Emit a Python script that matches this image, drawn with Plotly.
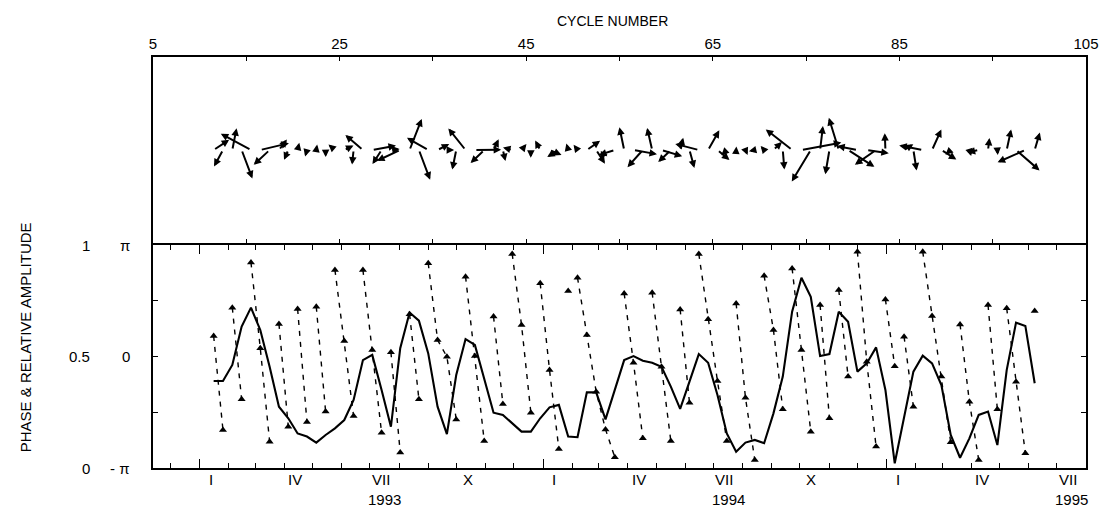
import math
from datetime import date
import plotly.graph_objects as go

# ---------------- data ----------------
first_cycle = 11.5  # cycle number of the first sample; one sample per cycle

relative_amplitude = [
    0.39, 0.39, 0.462, 0.634, 0.719, 0.619, 0.454, 0.275, 0.223, 0.155,
    0.141, 0.114, 0.148, 0.178, 0.215, 0.305, 0.484, 0.507, 0.350, 0.185,
    0.537, 0.697, 0.661, 0.514, 0.275, 0.152, 0.417, 0.578, 0.552, 0.395,
    0.248, 0.238, 0.200, 0.163, 0.163, 0.223, 0.272, 0.283, 0.141, 0.138,
    0.339, 0.339, 0.218, 0.350, 0.484, 0.502, 0.481, 0.472, 0.454, 0.365,
    0.265, 0.387, 0.511, 0.472, 0.327, 0.155, 0.073, 0.114, 0.126, 0.111,
    0.245, 0.410, 0.701, 0.853, 0.768, 0.502, 0.511, 0.701, 0.656, 0.432,
    0.469, 0.541, 0.350, 0.021, 0.230, 0.432, 0.504, 0.469, 0.372, 0.148,
    0.046, 0.133, 0.238, 0.253, 0.103, 0.439, 0.652, 0.637, 0.380,
]

# phase, plotted on the same 0..1 scale (0 = -pi, 0.5 = 0, 1 = pi)
phase_scaled = [
    0.592, 0.170, 0.719, 0.308, 0.922, 0.537, 0.118, 0.646, 0.185, 0.713,
    0.206, 0.723, 0.253, 0.888, 0.570, 0.233, 0.888, 0.529, 0.158, 0.519,
    0.069, 0.690, 0.308, 0.918, 0.574, 0.499, 0.218, 0.858, 0.502, 0.121,
    0.679, 0.287, 0.960, 0.641, 0.248, 0.828, 0.439, 0.085, 0.794, 0.853,
    0.596, 0.342, 0.173, 0.048, 0.783, 0.472, 0.133, 0.786, 0.454, 0.121,
    0.711, 0.293, 0.960, 0.667, 0.390, 0.121, 0.738, 0.315, 0.036, 0.862,
    0.619, 0.263, 0.895, 0.529, 0.163, 0.731, 0.223, 0.798, 0.410, 0.970,
    0.477, 0.096, 0.756, 0.456, 0.589, 0.275, 0.970, 0.682, 0.410, 0.115,
    0.644, 0.297, 0.036, 0.731, 0.263, 0.716, 0.387, 0.066, 0.704,
]

# axis labels
cycle_tick_values = [5, 15, 25, 35, 45, 55, 65, 75, 85, 95, 105]
cycle_tick_labels = ["5", "", "25", "", "45", "", "65", "", "85", "", "105"]
month_label_dates = ["1993-01-01", "1993-04-01", "1993-07-01", "1993-10-01",
                     "1994-01-01", "1994-04-01", "1994-07-01", "1994-10-01",
                     "1995-01-01", "1995-04-01", "1995-07-01"]
month_labels = ["I", "IV", "VII", "X", "I", "IV", "VII", "X", "I", "IV", "VII"]
year_label_dates = ["1993-07-01", "1994-07-01", "1995-07-01"]
year_labels = ["1993", "1994", "1995"]
amp_axis_labels = ["1", "0.5", "0"]
phase_axis_labels = ["\u03c0", "0", "- \u03c0"]
axis_label_levels = [1.0, 0.5, 0.0]

# ---------------- helpers ----------------
CYCLE_DAYS = 9.9156
REF_DATE = date(1993, 1, 1)
REF_CYCLE = 10.0


def date_to_cycle(d):
    return REF_CYCLE + (d - REF_DATE).days / CYCLE_DAYS


cycles = [first_cycle + i for i in range(len(relative_amplitude))]

# month ticks
month_ticks, jan_ticks = [], []
y, m = 1992, 12
while (y, m) <= (1995, 7):
    c = date_to_cycle(date(y, m, 1))
    month_ticks.append(c)
    if m == 1:
        jan_ticks.append(c)
    m += 1
    if m > 12:
        m, y = 1, y + 1

# phase line broken where the phase wraps
px, py = [], []
for i, (c, p) in enumerate(zip(cycles, phase_scaled)):
    if i > 0 and p > phase_scaled[i - 1]:
        px.append(None)
        py.append(None)
    px.append(c)
    py.append(p)

FONT = "Liberation Sans, Arial, Helvetica, sans-serif"
fig = go.Figure()

fig.add_trace(go.Scatter(x=px, y=py, mode="lines", xaxis="x", yaxis="y",
                         line=dict(color="black", width=1.4, dash="5px,6px"),
                         hoverinfo="skip", showlegend=False))
fig.add_trace(go.Scatter(x=cycles, y=phase_scaled, mode="markers", xaxis="x", yaxis="y",
                         marker=dict(symbol="triangle-up", size=7, color="black"),
                         showlegend=False))
fig.add_trace(go.Scatter(x=cycles, y=relative_amplitude, mode="lines", xaxis="x", yaxis="y",
                         line=dict(color="black", width=2.1), showlegend=False))

# invisible trace to activate top panel axes
fig.add_trace(go.Scatter(x=[cycles[0]], y=[0], mode="markers", xaxis="x2", yaxis="y2",
                         marker=dict(size=1, color="rgba(0,0,0,0)"), showlegend=False,
                         hoverinfo="skip"))

# ---------------- layout geometry ----------------
# the page body has an 8 px margin, so the figure is placed at (8, 8)
OFF = 8
PAGE_LEFT, PAGE_BOTTOM = 153, 468
W, H = 1111 - OFF, 508 - OFF
L, R, T, B = 145, 16, 49, 40
plot_w = W - L - R
plot_h = H - T - B
bottom_h = 223
LW = 2
split = bottom_h / plot_h
top_start = split + LW / plot_h   # so both boundary lines fall on the same pixels
px_per_cycle = plot_w / 100.0
arrow_px_per_unit = 48.0
baseline_px_from_top = 93
top_h = plot_h - bottom_h - LW
y2_top = baseline_px_from_top / arrow_px_per_unit
y2_bot = -(top_h - baseline_px_from_top) / arrow_px_per_unit
K = arrow_px_per_unit / px_per_cycle

annotations = []
for c, a, p in zip(cycles, relative_amplitude, phase_scaled):
    phi = math.pi * (2 * p - 1)
    annotations.append(dict(
        x=c + K * a * math.cos(phi), y=a * math.sin(phi),
        ax=c, ay=0, xref="x2", yref="y2", axref="x2", ayref="y2",
        text="", showarrow=True, arrowhead=2, arrowsize=0.75, arrowwidth=2,
        arrowcolor="black", standoff=0, startstandoff=0))


def py_paper(y_page):
    return (PAGE_BOTTOM - y_page) / plot_h


def px_paper(x_page):
    return (x_page - PAGE_LEFT) / plot_w


lab_font = dict(family=FONT, size=15, color="black")
for d, t in zip(month_label_dates, month_labels):
    c = date_to_cycle(date.fromisoformat(d))
    annotations.append(dict(x=c, y=py_paper(479), xref="x", yref="paper",
                            text=t, showarrow=False, xanchor="center", yanchor="middle",
                            xshift=11, font=lab_font))
for d, t in zip(year_label_dates, year_labels):
    c = date_to_cycle(date.fromisoformat(d))
    annotations.append(dict(x=c, y=py_paper(500), xref="x", yref="paper",
                            text=t, showarrow=False, xanchor="center", yanchor="middle",
                            xshift=15, font=lab_font))
for lev, a_lab, p_lab in zip(axis_label_levels, amp_axis_labels, phase_axis_labels):
    annotations.append(dict(x=0, y=lev, xref="paper", yref="y", text=a_lab,
                            showarrow=False, xanchor="right", yanchor="middle",
                            xshift=-61, font=lab_font))
    annotations.append(dict(x=0, y=lev, xref="paper", yref="y", text=p_lab,
                            showarrow=False, xanchor="right", yanchor="middle",
                            xshift=-21, font=lab_font))
annotations.append(dict(x=px_paper(24), y=py_paper(337), xref="paper", yref="paper",
                        text="PHASE & RELATIVE AMPLITUDE", textangle=-90, showarrow=False,
                        xanchor="center", yanchor="middle", font=lab_font))
annotations.append(dict(x=px_paper(617), y=py_paper(21), xref="paper", yref="paper",
                        text="CYCLE NUMBER", showarrow=False, xanchor="center",
                        yanchor="middle", font=dict(family=FONT, size=14, color="black")))

axis_common = dict(showline=True, linecolor="black", linewidth=LW, showgrid=False,
                   zeroline=False, tickcolor="black", tickwidth=1.2)

fig.update_layout(
    width=W, height=H, margin=dict(l=L, r=R, t=T, b=B, pad=0),
    paper_bgcolor="white", plot_bgcolor="white", showlegend=False,
    font=dict(family=FONT, size=15, color="black"),
    xaxis=dict(domain=[0, 1], anchor="y", range=[5, 105], mirror="ticks",
               tickmode="array", tickvals=jan_ticks, ticks="inside", ticklen=9,
               showticklabels=False,
               minor=dict(tickmode="array", tickvals=month_ticks, ticks="inside",
                          ticklen=5, tickcolor="black", tickwidth=1.2),
               **axis_common),
    yaxis=dict(domain=[0, split], anchor="x", range=[0, 1], mirror="ticks",
               tickmode="array", tickvals=[0.25, 0.5, 0.75], ticks="inside", ticklen=5,
               showticklabels=False, **axis_common),
    xaxis2=dict(domain=[0, 1], anchor="y2", range=[5, 105], side="top", mirror="ticks",
                tickmode="array", tickvals=cycle_tick_values, ticktext=cycle_tick_labels,
                ticks="inside", ticklen=4, tickfont=dict(family=FONT, size=15),
                **axis_common),
    yaxis2=dict(domain=[top_start, 1], anchor="x2", range=[y2_bot, y2_top], mirror=True,
                showticklabels=False, ticks="", **axis_common),
    annotations=annotations,
)

fig.write_html("out.html")
